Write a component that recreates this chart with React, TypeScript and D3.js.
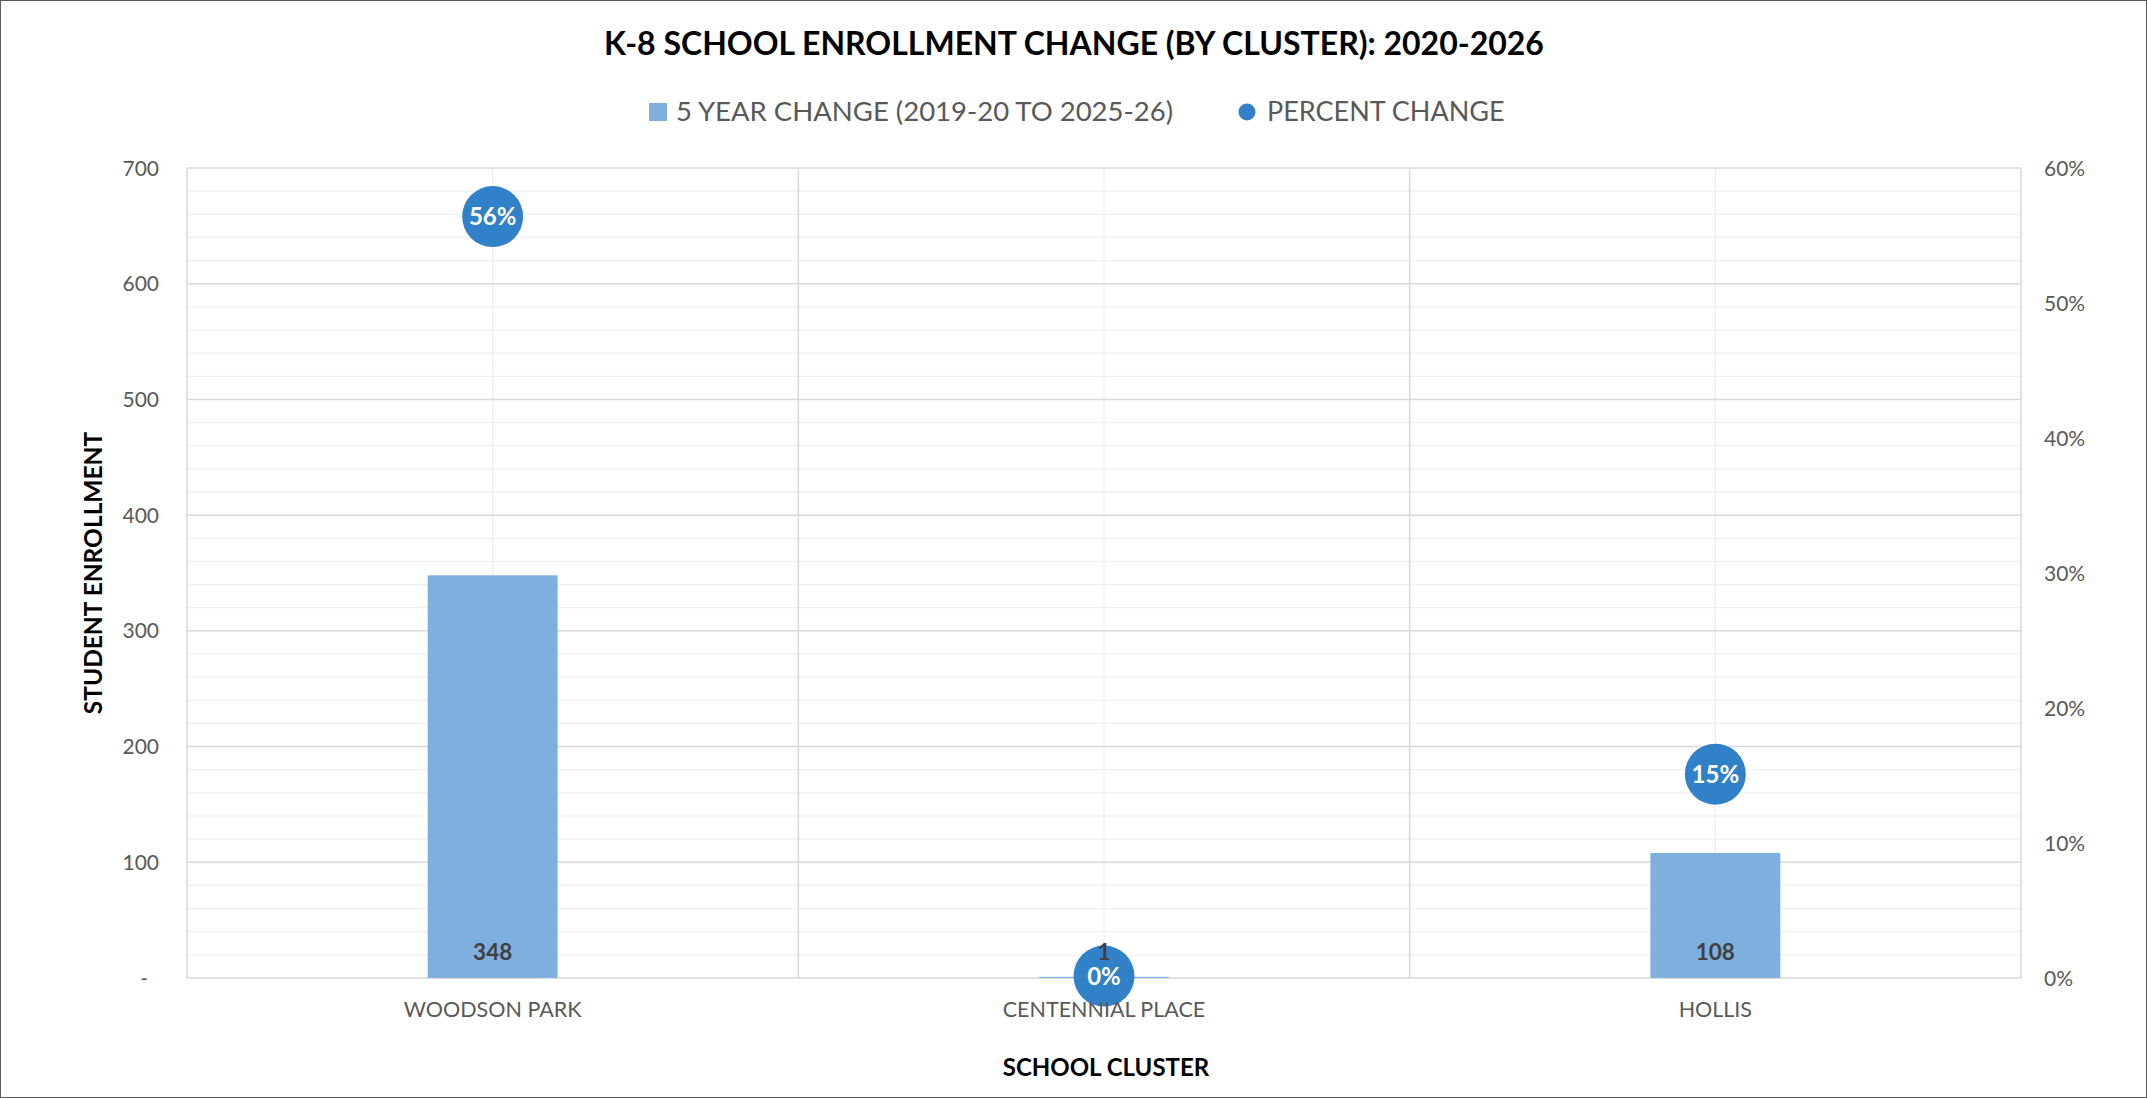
import React, { useEffect } from "react";
import * as d3 from "d3";

const categories = ["WOODSON PARK", "CENTENNIAL PLACE", "HOLLIS"];
const changeValues = [348, 1, 108];
const percentValues = [0.564, 0.0014, 0.151];
const percentLabels = ["56%", "0%", "15%"];
const leftTicks = [0, 100, 200, 300, 400, 500, 600, 700];
const rightTicks = [0, 0.1, 0.2, 0.3, 0.4, 0.5, 0.6];
const title = "K-8 SCHOOL ENROLLMENT CHANGE (BY CLUSTER): 2020-2026";
const seriesNames = ["5 YEAR CHANGE (2019-20 TO 2025-26)", "PERCENT CHANGE"];
const yTitle = "STUDENT ENROLLMENT";
const xTitle = "SCHOOL CLUSTER";

const W = 2147;
const H = 1098;
const FONT = "Lato, 'Open Sans', sans-serif";
const BAR = "#7EB0DF";
const DOT = "#3181C9";
const GRID_MAJOR = "#D9D9D9";
const GRID_MINOR = "#F0F0F0";
const LABEL = "#595959";

export default function App() {
  useEffect(() => {
    document.body.style.margin = "0";
  }, []);

  const left = 187, right = 2021, top = 168, bottom = 978;
  const x = d3.scaleBand<string>().domain(categories).range([left, right]).padding(0);
  const y = d3.scaleLinear().domain([0, 700]).range([bottom, top]);
  const y2 = d3.scaleLinear().domain([0, 0.6]).range([bottom, top]);
  const bw = x.bandwidth() * 0.2125;
  const minor = d3.range(0, 701, 20).filter((v) => v % 100 !== 0);
  const fmtPct = d3.format(".0%");
  const cx = (c: string) => x(c)! + x.bandwidth() / 2;

  return (
    <svg width={W} height={H} style={{ display: "block", background: "#fff" }} fontFamily={FONT}>
      <rect x={0.5} y={0.5} width={W - 1} height={H - 1} fill="#fff" stroke="#595959" strokeWidth={1} />
      {minor.map((v) => (
        <line key={"mn" + v} x1={left} x2={right} y1={y(v)} y2={y(v)} stroke={GRID_MINOR} strokeWidth={1.3} />
      ))}
      {categories.map((c) => (
        <line key={"vc" + c} x1={cx(c)} x2={cx(c)} y1={top} y2={bottom} stroke={GRID_MINOR} strokeWidth={1.3} />
      ))}
      {leftTicks.map((v) => (
        <line key={"mj" + v} x1={left} x2={right} y1={y(v)} y2={y(v)} stroke={GRID_MAJOR} strokeWidth={1.5} />
      ))}
      {[...categories.map((c) => x(c)!), right].map((bx, i) => (
        <line key={"vb" + i} x1={bx} x2={bx} y1={top} y2={bottom} stroke={GRID_MAJOR} strokeWidth={1.5} />
      ))}
      {categories.map((c, i) => (
        <rect key={"b" + c} x={cx(c) - bw / 2} y={y(changeValues[i])} width={bw} height={y(0) - y(changeValues[i])} fill={BAR} />
      ))}
      {categories.map((c, i) => (
        <g key={"d" + c}>
          <circle cx={cx(c)} cy={y2(percentValues[i])} r={30.5} fill={DOT} />
          <text x={cx(c)} y={y2(percentValues[i])} dy="0.36em" textAnchor="middle" fontSize={24} fontWeight={700} fill="#fff">
            {percentLabels[i]}
          </text>
        </g>
      ))}
      {categories.map((c, i) => (
        <text key={"bl" + c} x={cx(c)} y={y(0) - 18} textAnchor="middle" fontSize={22.5} fontWeight={700} fill="#404040">
          {changeValues[i]}
        </text>
      ))}
      {leftTicks.map((v) => (
        <text key={"lt" + v} x={v === 0 ? 148 : 159} y={y(v)} dy="0.36em" textAnchor="end" fontSize={21} fill={LABEL}>
          {v === 0 ? "-" : d3.format("d")(v)}
        </text>
      ))}
      {rightTicks.map((v) => (
        <text key={"rt" + v} x={2044} y={y2(v)} dy="0.36em" textAnchor="start" fontSize={21} fill={LABEL}>
          {fmtPct(v)}
        </text>
      ))}
      {categories.map((c) => (
        <text key={"cl" + c} x={cx(c)} y={1017} textAnchor="middle" fontSize={21.5} fill={LABEL}>
          {c}
        </text>
      ))}
      <text x={1074} y={55} textAnchor="middle" fontSize={32} fontWeight={700} fill="#000">
        {title}
      </text>
      <rect x={649} y={103} width={18} height={18} fill={BAR} />
      <text x={676} y={121} fontSize={27.5} fill={LABEL}>{seriesNames[0]}</text>
      <circle cx={1247} cy={112} r={8.5} fill={DOT} />
      <text x={1267} y={121} fontSize={27} fill={LABEL}>{seriesNames[1]}</text>
      <text transform={`translate(102, ${(top + bottom) / 2}) rotate(-90)`} textAnchor="middle" fontSize={24.5} fontWeight={700} fill="#000">
        {yTitle}
      </text>
      <text x={1106} y={1076} textAnchor="middle" fontSize={24} fontWeight={700} fill="#000">
        {xTitle}
      </text>
    </svg>
  );
}
